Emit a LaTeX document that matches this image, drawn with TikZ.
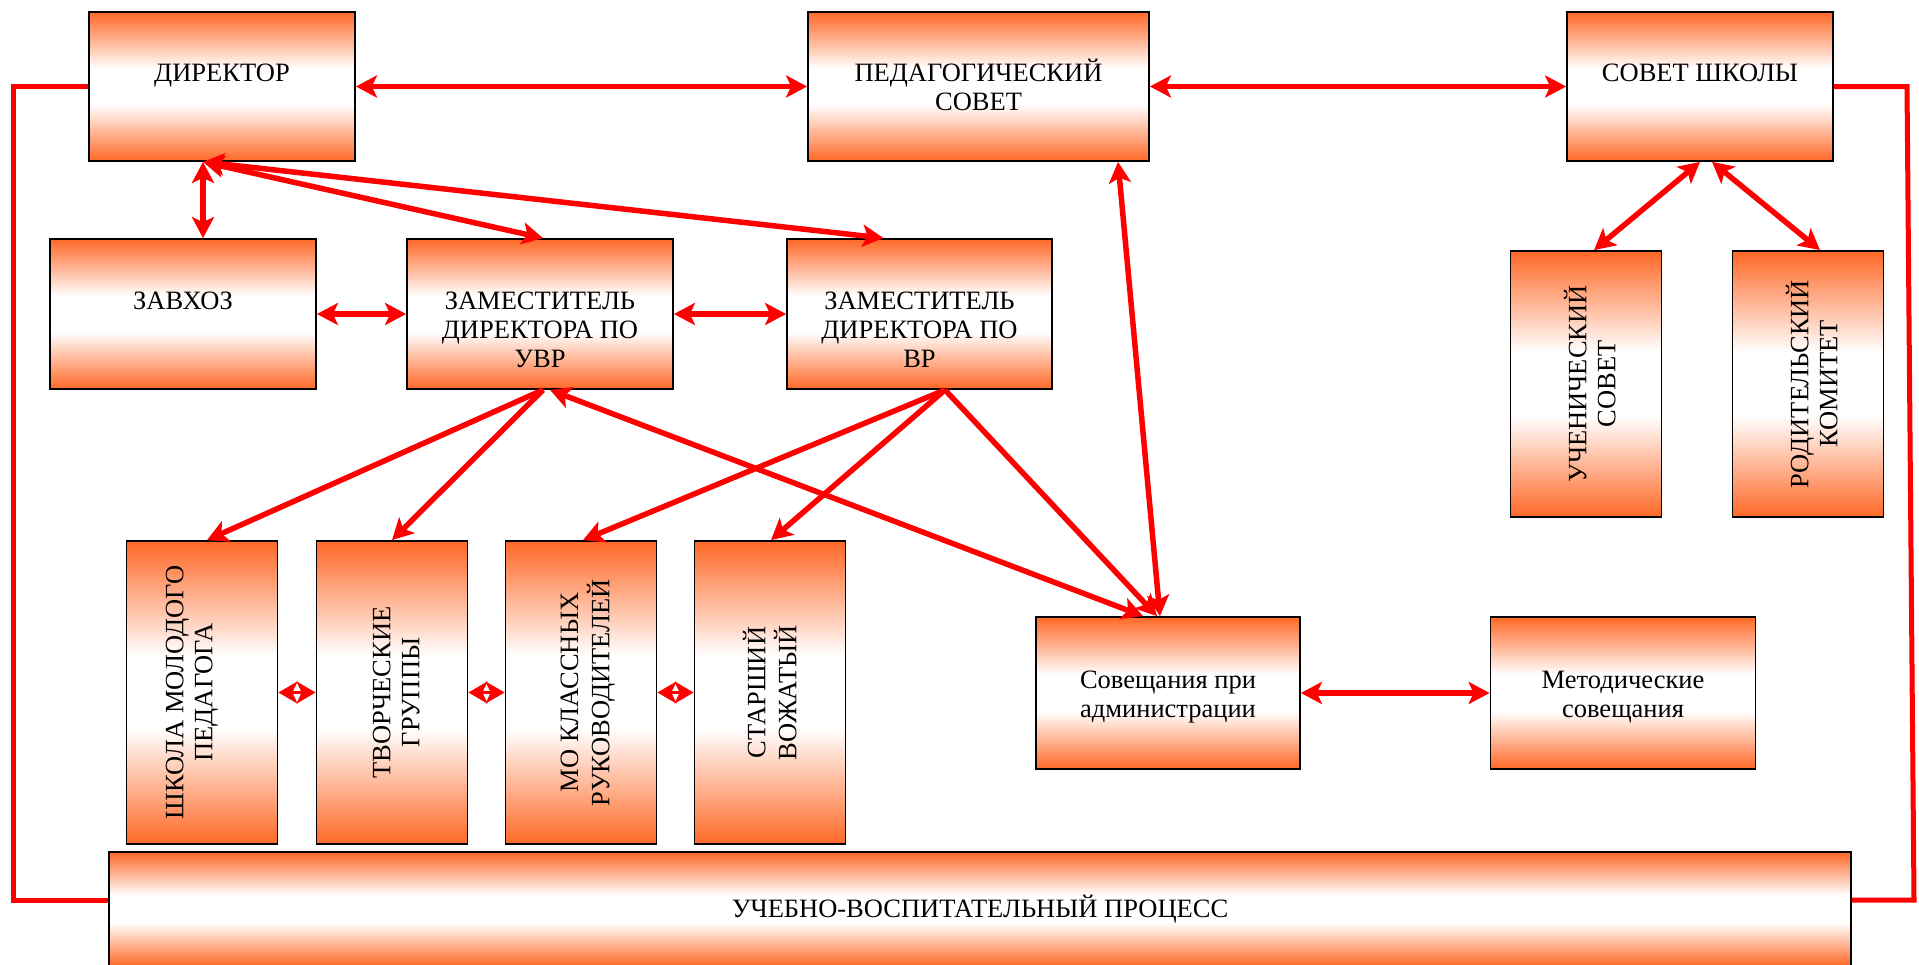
\documentclass[tikz,border=0pt]{standalone}
\usepackage{fontspec}
\setmainfont{Liberation Serif}
\usepackage{graphicx}
\usetikzlibrary{arrows.meta}

\definecolor{orgc}{RGB}{255,104,38}
\pgfdeclareverticalshading{orgfade}{100bp}{color(0bp)=(orgc); color(25bp)=(orgc); color(44bp)=(white); color(56bp)=(white); color(75bp)=(orgc); color(100bp)=(orgc)}
\newcommand{\toptext}[1]{\raisebox{5pt}[0pt][0pt]{\begin{tabular}[t]{@{}c@{}}#1\end{tabular}}}
\newcommand{\sidetext}[2][0pt]{\kern#1\rotatebox{90}{\begin{tabular}{@{}c@{}}#2\end{tabular}}}

\begin{document}
\begin{tikzpicture}[x=1pt, y=-1pt,
    orgbox/.style={draw=black, line width=1.8pt, shade, shading=orgfade, inner sep=0pt,
      font=\fontsize{26.5}{29}\selectfont},
    link/.style={red, line width=5.5pt},
    twoway/.style={link, {Stealth[length=21pt,width=22pt,inset=5pt]}-{Stealth[length=21pt,width=22pt,inset=5pt]}},
    oneway/.style={link, -{Stealth[length=21pt,width=22pt,inset=5pt]}},
    pairarr/.style={red, line width=2.5pt, {Stealth[length=19pt,width=22pt,inset=5pt]}-{Stealth[length=19pt,width=22pt,inset=5pt]}},
    frame/.style={red, line width=5pt}]
  \useasboundingbox (0,0) rectangle (1919,964);
  \clip (0,0) rectangle (1919,964);

  % Top row
  \node[orgbox, minimum width=266pt, minimum height=149pt] (dir) at (222,86.5) {\toptext{ДИРЕКТОР}};
  \node[orgbox, minimum width=341pt, minimum height=149pt] (ped) at (978.5,86.5) {\toptext{ПЕДАГОГИЧЕСКИЙ\\СОВЕТ}};
  \node[orgbox, minimum width=266pt, minimum height=149pt] (sov) at (1700,86.5) {\toptext{СОВЕТ ШКОЛЫ}};

  % Deputies
  \node[orgbox, minimum width=266pt, minimum height=150pt] (zav) at (183,314) {\toptext{ЗАВХОЗ}};
  \node[orgbox, minimum width=266pt, minimum height=150pt] (uvr) at (540,314) {\toptext{ЗАМЕСТИТЕЛЬ\\ДИРЕКТОРА ПО\\УВР}};
  \node[orgbox, minimum width=265pt, minimum height=150pt] (vr) at (919.5,314) {\toptext{ЗАМЕСТИТЕЛЬ\\ДИРЕКТОРА ПО\\ВР}};
  \node[orgbox, minimum width=151pt, minimum height=266pt] (uch) at (1586,384) {\sidetext[16pt]{УЧЕНИЧЕСКИЙ\\СОВЕТ}};
  \node[orgbox, minimum width=151pt, minimum height=266pt] (rod) at (1808,384) {\sidetext[16pt]{РОДИТЕЛЬСКИЙ\\КОМИТЕТ}};

  % Bottom row
  \node[orgbox, minimum width=151pt, minimum height=303pt] (shk) at (202,692.5) {\sidetext[-20pt]{ШКОЛА МОЛОДОГО\\ПЕДАГОГА}};
  \node[orgbox, minimum width=151pt, minimum height=303pt] (tvo) at (392,692.5) {\sidetext[14pt]{ТВОРЧЕСКИЕ\\ГРУППЫ}};
  \node[orgbox, minimum width=151pt, minimum height=303pt] (mok) at (581,692.5) {\sidetext[14pt]{МО КЛАССНЫХ\\РУКОВОДИТЕЛЕЙ}};
  \node[orgbox, minimum width=151pt, minimum height=303pt] (sta) at (770,692.5) {\sidetext[8pt]{СТАРШИЙ\\ВОЖАТЫЙ}};
  \node[orgbox, minimum width=264pt, minimum height=152pt] (soa) at (1168,693) {\toptext{Совещания при\\администрации}};
  \node[orgbox, minimum width=265pt, minimum height=152pt] (met) at (1623,693) {\toptext{Методические\\совещания}};
  \node[orgbox, minimum width=1742pt, minimum height=114pt] (uvp) at (980,909) {УЧЕБНО-ВОСПИТАТЕЛЬНЫЙ ПРОЦЕСС};

  % Outer loop
  \coordinate (lt) at (13,86.5);
  \coordinate (lb) at (13,900);
  \coordinate (rt) at (1907,86.5);
  \coordinate (rb) at (1914,900);
  \draw[frame] (dir.west) -- (lt) -- (lb) -- (lb -| uvp.west);
  \draw[frame] (sov.east) -- (rt) -- (rb) -- (rb -| uvp.east);

  % Links
  \draw[twoway] (dir) -- (ped);
  \draw[twoway] (ped) -- (sov);
  \draw[twoway] ([xshift=-19pt]dir.south) -- ([xshift=20pt]zav.north);
  \draw[twoway] ([xshift=-19pt]dir.south) -- ([xshift=3pt]uvr.north);
  \draw[twoway] ([xshift=-19pt]dir.south) -- ([xshift=-36pt]vr.north);
  \draw[twoway] (zav) -- (uvr);
  \draw[twoway] (uvr) -- (vr);
  \draw[twoway] ([xshift=139.5pt]ped.south) -- ([xshift=-8pt]soa.north);
  \draw[oneway] ([xshift=3pt]uvr.south) -- ([xshift=5pt]shk.north);
  \draw[oneway] ([xshift=3pt]uvr.south) -- (tvo.north);
  \draw[twoway] ([xshift=10pt]uvr.south) -- ([xshift=-25pt]soa.north);
  \draw[oneway] ([xshift=25.5pt]vr.south) -- ([xshift=2pt]mok.north);
  \draw[oneway] ([xshift=25.5pt]vr.south) -- ([xshift=1pt]sta.north);
  \draw[oneway] ([xshift=25.5pt]vr.south) -- ([xshift=-11pt]soa.north);
  \draw[pairarr] (shk) -- (tvo);
  \draw[pairarr] (tvo) -- (mok);
  \draw[pairarr] (mok) -- (sta);
  \draw[twoway] (soa) -- (met);
  \draw[twoway] (sov.south) -- ([xshift=8pt]uch.north);
  \draw[twoway] ([xshift=12pt]sov.south) -- ([xshift=12pt]rod.north);
\end{tikzpicture}
\end{document}
